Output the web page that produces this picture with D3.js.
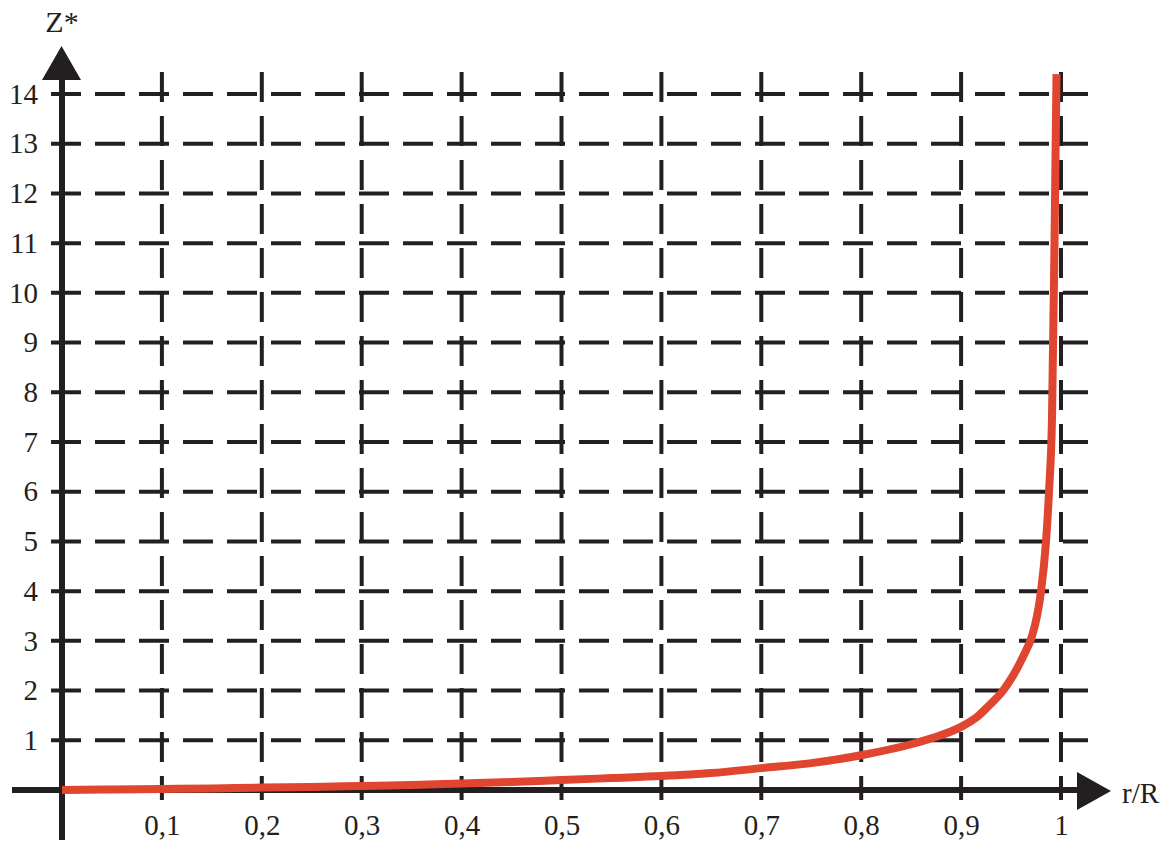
<!DOCTYPE html>
<html>
<head>
<meta charset="utf-8">
<script src="https://cdn.jsdelivr.net/npm/d3@7"></script>
<style>
  body { margin: 0; background: #fff; }
  text { font-family: 'Liberation Serif', 'Times New Roman', serif; fill: #231f20; }
</style>
</head>
<body>
<svg id="plot"></svg>
<script>
const width = 1171;
const height = 841;

// r/R and Z*
const rR = [0, 0.05, 0.1, 0.15, 0.2, 0.25, 0.3, 0.35, 0.4, 0.45, 0.5, 0.55, 0.6, 0.65, 0.7, 0.75, 0.8, 0.85,
    0.872, 0.9, 0.916, 0.929, 0.942, 0.952, 0.962, 0.971, 0.976, 0.98, 0.985, 0.988, 0.991, 0.9935, 0.9955];
const zStar = [0, 0.01, 0.02, 0.03, 0.05, 0.06, 0.08, 0.1, 0.13, 0.16, 0.2, 0.24, 0.28, 0.34, 0.44, 0.54, 0.7, 0.92,
    1.05, 1.27, 1.47, 1.72, 2.0, 2.3, 2.68, 3.1, 3.5, 4.0, 5.0, 6.0, 7.5, 11.0, 14.4];

const xTicks = [0.1, 0.2, 0.3, 0.4, 0.5, 0.6, 0.7, 0.8, 0.9, 1];
const yTicks = [1, 2, 3, 4, 5, 6, 7, 8, 9, 10, 11, 12, 13, 14];

const ink = "#231f20";
const red = "#e0452f";
const serif = "'Liberation Serif', 'Times New Roman', serif";

const svg = d3.select('#plot').attr('width', width).attr('height', height);

var xScale = d3.scaleLinear()
    .domain([0, 1])
    .range([62, 1061]);

var yScale = d3.scaleLinear()
    .domain([0, 14])
    .range([790, 94]);

// dashed grid
svg.append("g").selectAll("line")
    .data(yTicks)
    .enter().append("line")
    .attr("x1", 51).attr("x2", 1088)
    .attr("y1", d => yScale(d)).attr("y2", d => yScale(d))
    .attr("stroke", ink).attr("stroke-width", 4)
    .attr("stroke-dasharray", "30,14");

svg.append("g").selectAll("line")
    .data(xTicks)
    .enter().append("line")
    .attr("x1", d => xScale(d)).attr("x2", d => xScale(d))
    .attr("y1", 72).attr("y2", 800)
    .attr("stroke", ink).attr("stroke-width", 4)
    .attr("stroke-dasharray", "30,14");

// axes lines + arrows
svg.append("line")
    .attr("x1", 12).attr("x2", 1080)
    .attr("y1", yScale(0)).attr("y2", yScale(0))
    .attr("stroke", ink).attr("stroke-width", 6);
svg.append("path")
    .attr("d", "M1077,772 L1111,791 L1077,810 Z")
    .attr("fill", ink);

svg.append("line")
    .attr("x1", xScale(0)).attr("x2", xScale(0))
    .attr("y1", 840).attr("y2", 78)
    .attr("stroke", ink).attr("stroke-width", 6);
svg.append("path")
    .attr("d", "M42,80 L61.5,46 L81,80 Z")
    .attr("fill", ink);

// tick labels
const gx = svg.append("g")
    .attr("transform", "translate(0," + yScale(0) + ")")
    .call(d3.axisBottom(xScale).tickValues(xTicks).tickSize(0)
        .tickFormat(d => String(d).replace(".", ",")));
gx.select(".domain").remove();
gx.attr("font-family", serif).attr("font-size", 29);
gx.selectAll("text")
    .attr("y", 45).attr("dy", 0)
    .attr("fill", ink);

const gy = svg.append("g")
    .attr("transform", "translate(" + xScale(0) + ",0)")
    .call(d3.axisLeft(yScale).tickValues(yTicks).tickSize(0).tickPadding(24));
gy.select(".domain").remove();
gy.attr("font-family", serif).attr("font-size", 29);
gy.selectAll("text")
    .attr("fill", ink);

// axis titles
svg.append("text").attr("x", 62).attr("y", 32).attr("text-anchor", "middle")
    .attr("font-family", serif).attr("font-size", 30).text("Z*");
svg.append("text").attr("x", 1122).attr("y", 803)
    .attr("font-family", serif).attr("font-size", 29).text("r/R");

// the curve
var line = d3.line()
    .x((d, i) => xScale(rR[i]))
    .y(d => yScale(d))
    .curve(d3.curveMonotoneX);

svg.append("path")
    .datum(zStar)
    .attr("d", line)
    .attr("fill", "none")
    .attr("stroke", red)
    .attr("stroke-width", 8)
    .attr("stroke-linejoin", "round");
</script>
</body>
</html>
